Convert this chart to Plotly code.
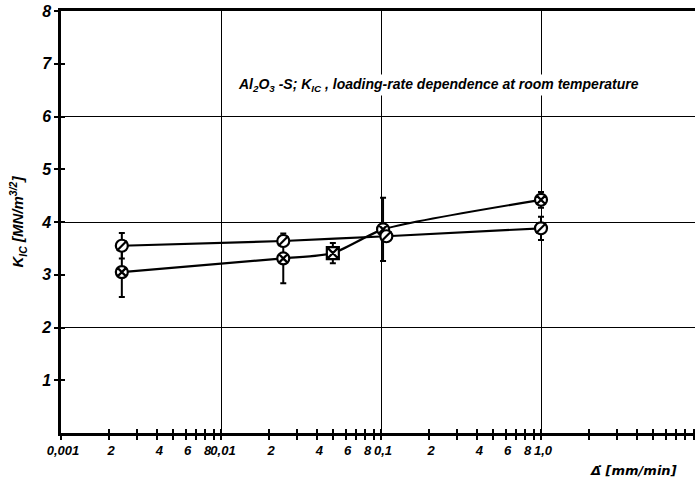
import plotly.graph_objects as go

# ---- data ----
rate_slash = [0.0024, 0.0245, 0.108, 1.0]
kic_slash = [3.55, 3.64, 3.73, 3.88]
err_slash = [0.24, 0.10, 0.08, 0.22]

rate_cross = [0.0024, 0.0245, 0.05, 0.103, 1.0]
kic_cross = [3.05, 3.31, 3.41, 3.86, 4.42]
err_cross = [0.47, 0.47, 0.19, 0.60, 0.15]
sym_cross = ["circle-x", "circle-x", "square-x", "circle-x", "circle-x"]

x_all_ticks = [m * 10 ** e for e in (-3, -2, -1, 0) for m in range(1, 10)]
x_label_vals = []
x_label_text = []
x_plain_ticks = []
for e in (-3, -2, -1, 0):
    for m in range(1, 10):
        v = m * 10 ** e
        if m == 1:
            x_label_vals.append(v)
            x_label_text.append({-3: "0,001", -2: "0,01", -1: "0,1", 0: "1,0"}[e])
        elif m in (2, 4, 6, 8) and e < 0:
            x_label_vals.append(v)
            x_label_text.append(str(m))
        else:
            x_plain_ticks.append(v)
y_tick_vals = [1, 2, 3, 4, 5, 6, 7, 8]
x_grid = [0.01, 0.1, 1.0]
y_grid = [2, 4, 6]

FONT = "Liberation Sans"
xr = [-3, 0.9625]

fig = go.Figure()

# crossed series
fig.add_trace(go.Scatter(
    x=rate_cross, y=kic_cross, mode="lines+markers",
    line=dict(color="black", width=2.2, shape="spline", smoothing=0.6),
    marker=dict(symbol=sym_cross, size=12, color="white",
                line=dict(color="black", width=2.2)),
    error_y=dict(type="data", array=err_cross, color="black", thickness=2, width=3),
    showlegend=False, xaxis="x", yaxis="y"))

# slashed series
fig.add_trace(go.Scatter(
    x=rate_slash, y=kic_slash, mode="lines+markers",
    line=dict(color="black", width=2.2, shape="spline", smoothing=0.6),
    marker=dict(symbol="circle", size=12, color="white",
                line=dict(color="black", width=2.2)),
    error_y=dict(type="data", array=err_slash, color="black", thickness=2, width=3),
    showlegend=False, xaxis="x", yaxis="y"))
fig.add_trace(go.Scatter(
    x=rate_slash, y=kic_slash, mode="markers",
    marker=dict(symbol="line-ne", size=10, color="black",
                line=dict(color="black", width=2.2)),
    showlegend=False, hoverinfo="skip", xaxis="x", yaxis="y"))

# dummy traces for overlay axes
fig.add_trace(go.Scatter(x=[0.01], y=[4], mode="markers", marker=dict(opacity=0),
                         showlegend=False, hoverinfo="skip", xaxis="x2", yaxis="y2"))
fig.add_trace(go.Scatter(x=[0.01], y=[4], mode="markers", marker=dict(opacity=0),
                         showlegend=False, hoverinfo="skip", xaxis="x3", yaxis="y3"))

xtickfont = dict(family=FONT, size=13, color="black", style="italic", weight="bold")
ytickfont = dict(family=FONT, size=16, color="black", style="italic", weight="bold")

fig.update_layout(
    width=695, height=486,
    margin=dict(l=61, r=0, t=11, b=53),
    paper_bgcolor="white", plot_bgcolor="white",
    xaxis=dict(type="log", range=xr, tickvals=x_label_vals, ticktext=x_label_text,
               ticks="outside", ticklen=4, tickwidth=1.5, tickcolor="black",
               minor=dict(tickvals=x_plain_ticks, ticks="outside", ticklen=4,
                          tickwidth=1.5, tickcolor="black", showgrid=False),
               showline=True, linewidth=2.5, linecolor="black", mirror=True,
               showgrid=False, zeroline=False, tickfont=xtickfont, tickangle=0,
               ticklabelshift=2),
    yaxis=dict(range=[0, 8], tickvals=y_tick_vals,
               ticks="outside", ticklen=4, tickwidth=1.5, tickcolor="black",
               showline=True, linewidth=2.5, linecolor="black",
               showgrid=False, zeroline=False, tickfont=ytickfont,
               title=dict(text="K<sub>IC</sub> [MN/m<sup>3/2</sup>]",
                          font=dict(family=FONT, size=15, color="black",
                                    style="italic", weight="bold"),
                          standoff=14)),
    xaxis2=dict(type="log", range=xr, overlaying="x", anchor="y2",
                tickvals=x_all_ticks, ticks="inside", ticklen=4, tickwidth=1.5,
                tickcolor="black", showticklabels=False, showline=False,
                showgrid=False, zeroline=False),
    yaxis2=dict(range=[0, 8], overlaying="y", anchor="x2", tickvals=y_tick_vals,
                ticks="inside", ticklen=4, tickwidth=1.5, tickcolor="black",
                showticklabels=False, showline=False, showgrid=False, zeroline=False),
    xaxis3=dict(type="log", range=xr, overlaying="x", anchor="y3",
                tickvals=x_grid, ticks="", showticklabels=False, showline=False,
                showgrid=True, gridcolor="black", gridwidth=1, zeroline=False),
    yaxis3=dict(range=[0, 8], overlaying="y", anchor="x3", tickvals=y_grid,
                ticks="", showticklabels=False, showline=False,
                showgrid=True, gridcolor="black", gridwidth=1, zeroline=False),
)

fig.add_annotation(
    text="Al<sub>2</sub>O<sub>3</sub> -S; K<sub>IC</sub> , loading-rate dependence at room temperature",
    xref="paper", yref="y", x=0.596, y=6.6, showarrow=False,
    bgcolor="white", font=dict(family=FONT, size=14, color="black",
                               style="italic", weight="bold"))
fig.add_annotation(
    text="\u0394\u0307 [mm/min]", xref="paper", yref="paper", x=0.975, y=-0.088,
    xanchor="right", yanchor="middle", showarrow=False,
    font=dict(family="DejaVu Sans", size=13, color="black", style="italic",
              weight="bold"))

fig.write_html("out.html")
